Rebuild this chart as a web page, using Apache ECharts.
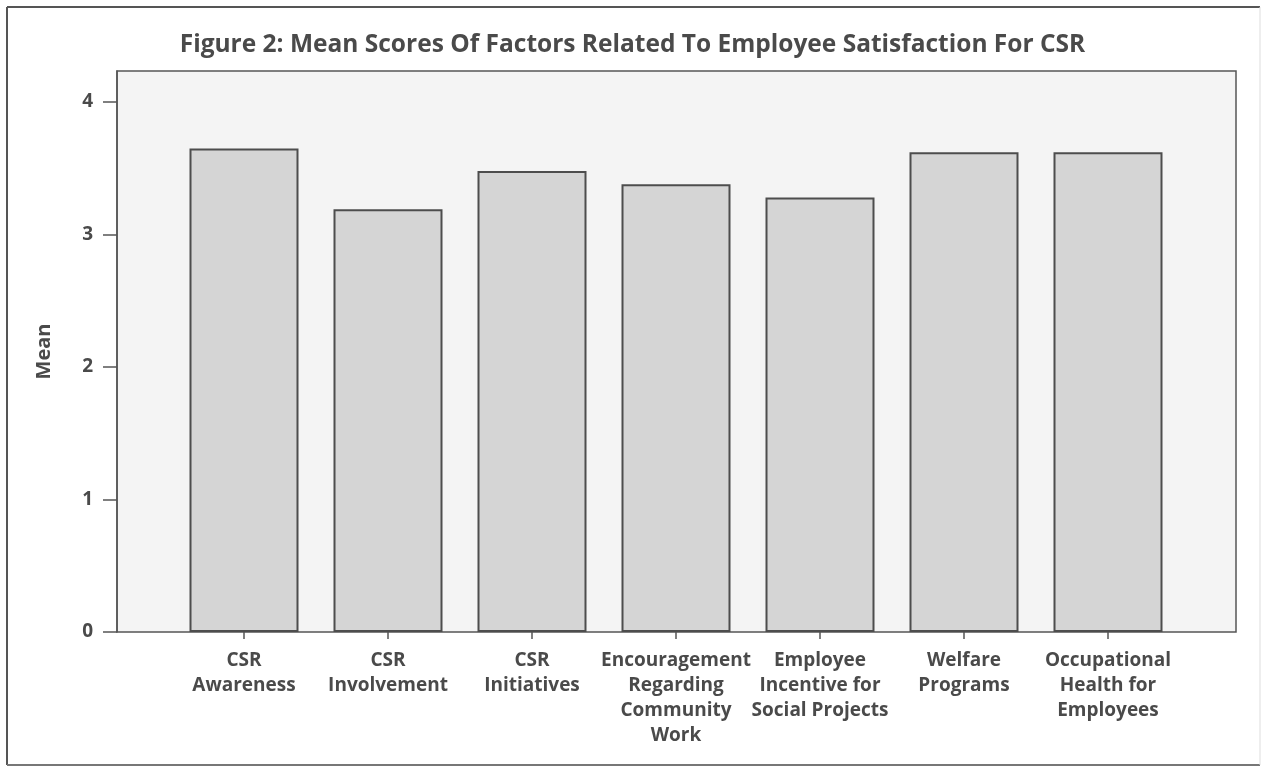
<!DOCTYPE html>
<html>
<head>
<meta charset="utf-8">
<script src="https://cdn.jsdelivr.net/npm/echarts@6/dist/echarts.min.js"></script>
<style>
html,body{margin:0;padding:0;background:#fff;}
#chart{width:1265px;height:767px;}
</style>
</head>
<body>
<div id="chart"></div>
<script>
const categories = [
  'CSR\nAwareness',
  'CSR\nInvolvement',
  'CSR\nInitiatives',
  'Encouragement\nRegarding\nCommunity\nWork',
  'Employee\nIncentive for\nSocial Projects',
  'Welfare\nPrograms',
  'Occupational\nHealth for\nEmployees'
];
const means = [3.65, 3.19, 3.48, 3.38, 3.28, 3.62, 3.62];
const yTicks = [0, 1, 2, 3, 4];
const titleText = 'Figure 2: Mean Scores Of Factors Related To Employee Satisfaction For CSR';
const yName = 'Mean';

const FONT = '"Open Sans", Lato, sans-serif';
const TXT = '#4a4a4a';
const YMAX = 4.234;

const chart = echarts.init(document.getElementById('chart'));
chart.setOption({
  animation: false,
  backgroundColor: '#ffffff',
  title: {
    text: titleText,
    left: 'center',
    top: 28,
    textStyle: { fontFamily: FONT, fontSize: 24.5, fontWeight: 'bold', color: TXT }
  },
  graphic: [
    { type: 'line', shape: { x1: 7, y1: 7, x2: 1260, y2: 7 }, style: { stroke: '#555', lineWidth: 2 } },
    { type: 'line', shape: { x1: 7, y1: 7, x2: 7, y2: 765 }, style: { stroke: '#555', lineWidth: 2 } },
    { type: 'line', shape: { x1: 7, y1: 765, x2: 1260, y2: 765 }, style: { stroke: '#777', lineWidth: 2 } },
    { type: 'line', shape: { x1: 1260, y1: 7, x2: 1260, y2: 765 }, style: { stroke: '#ddd', lineWidth: 1 } }
  ],
  grid: [
    { left: 117, right: 29, top: 71, bottom: 135, show: true,
      backgroundColor: '#f4f4f4', borderColor: '#555', borderWidth: 1.5 },
    { left: 172, right: 85, top: 71, bottom: 135 }
  ],
  xAxis: [
    { type: 'value', gridIndex: 0, show: false, min: 0, max: 1 },
    { type: 'category', gridIndex: 1, data: categories,
      axisLine: { show: false },
      axisTick: { show: true, alignWithLabel: true, length: 7, lineStyle: { color: '#555', width: 1.5 } },
      axisLabel: { fontFamily: FONT, fontSize: 19, fontWeight: 'bold', color: TXT, lineHeight: 25, margin: 16, interval: 0 }
    }
  ],
  yAxis: [
    { type: 'value', gridIndex: 0, min: 0, max: YMAX,
      name: yName, nameLocation: 'middle', nameGap: 63, nameRotate: 90,
      nameTextStyle: { fontFamily: FONT, fontSize: 20, fontWeight: 'bold', color: TXT },
      axisLine: { show: true, lineStyle: { color: '#555', width: 1.5 } },
      axisTick: { show: true, length: 14, customValues: yTicks, lineStyle: { color: '#555', width: 1.5 } },
      axisLabel: { customValues: yTicks, fontFamily: FONT, fontSize: 19, fontWeight: 'bold', color: TXT, margin: 24 },
      splitLine: { show: false }
    },
    { type: 'value', gridIndex: 1, min: 0, max: YMAX, show: false, splitLine: { show: false } }
  ],
  series: [{
    type: 'bar',
    xAxisIndex: 1,
    yAxisIndex: 1,
    data: means,
    barWidth: 109,
    itemStyle: { color: '#d5d5d5', borderColor: '#4d4d4d', borderWidth: 2 }
  }]
});
</script>
</body>
</html>
